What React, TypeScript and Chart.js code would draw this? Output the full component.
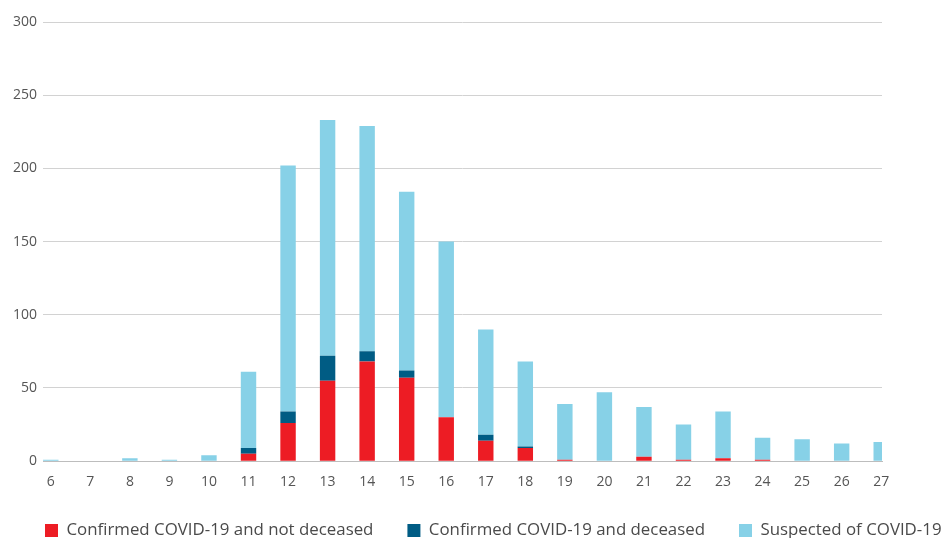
import React, { useEffect, useRef } from "react";
import { Chart, registerables } from "chart.js";

Chart.register(...registerables);

const categories = [6, 7, 8, 9, 10, 11, 12, 13, 14, 15, 16, 17, 18, 19, 20, 21, 22, 23, 24, 25, 26, 27];
const confirmedNotDeceased = [0, 0, 0, 0, 0, 5, 26, 55, 68, 57, 30, 14, 9, 1, 0, 3, 1, 2, 1, 0, 0, 0];
const confirmedDeceased = [0, 0, 0, 0, 0, 4, 8, 17, 7, 5, 0, 4, 1, 0, 0, 0, 0, 0, 0, 0, 0, 0];
const suspected = [1, 0, 2, 1, 4, 52, 168, 161, 154, 122, 120, 72, 58, 38, 47, 34, 24, 32, 15, 15, 12, 13];
const yTicks = [0, 50, 100, 150, 200, 250, 300];

const seriesNames = [
  "Confirmed COVID-19 and not deceased",
  "Confirmed COVID-19 and deceased",
  "Suspected of COVID-19",
];
const seriesColors = ["#ED1C24", "#005C84", "#87D1E7"];

export default function App() {
  const ref = useRef<HTMLCanvasElement | null>(null);

  useEffect(() => {
    if (!ref.current) return;
    const toPts = (arr: number[]) => categories.map((c, i) => ({ x: c, y: arr[i] }));
    const chart = new Chart(ref.current, {
      type: "bar",
      data: {
        datasets: [confirmedNotDeceased, confirmedDeceased, suspected].map((arr, i) => ({
          label: seriesNames[i],
          data: toPts(arr),
          backgroundColor: seriesColors[i],
          borderWidth: 0,
          categoryPercentage: 1,
          barPercentage: 0.39,
          yAxisID: "y",
        })),
      },
      options: {
        responsive: false,
        animation: false,
        devicePixelRatio: 1,
        layout: { padding: { left: 11, top: 22, right: 0, bottom: 0 } },
        plugins: {
          tooltip: { enabled: false },
          legend: {
            position: "bottom",
            align: "start",
            labels: {
              boxWidth: 13,
              boxHeight: 13,
              padding: 34,
              color: "#4a4a4a",
              font: { family: "'Open Sans'", size: 16.85 },
            },
          },
        },
        scales: {
          x: {
            type: "linear",
            stacked: true,
            offset: false,
            min: 5.803,
            max: 27.02,
            grid: { display: false, drawTicks: false },
            border: { display: true, color: "#bdbdbd", width: 1 },
            afterBuildTicks: (s: any) => {
              s.ticks = categories.map((v) => ({ value: v }));
            },
            afterFit: (s: any) => {
              s.height = 27;
            },
            ticks: {
              padding: 14,
              autoSkip: false,
              maxRotation: 0,
              color: "#555555",
              font: { family: "'Open Sans'", size: 14, lineHeight: 1 },
              callback: (v: any) => String(v),
            },
          },
          y: {
            stacked: true,
            min: 0,
            max: 300,
            afterBuildTicks: (s: any) => {
              s.ticks = yTicks.map((v) => ({ value: v }));
            },
            afterFit: (s: any) => {
              s.width = 32;
            },
            grid: { color: "#d2d2d2", lineWidth: 1, drawTicks: false },
            border: { display: false },
            ticks: {
              padding: 6,
              color: "#555555",
              font: { family: "'Open Sans'", size: 14 },
            },
          },
          yRight: {
            type: "linear",
            position: "right",
            display: true,
            grid: { display: false, drawTicks: false },
            border: { display: false },
            ticks: { display: false },
            afterFit: (s: any) => {
              s.width = 118;
            },
          },
        },
      },
    } as any);
    return () => chart.destroy();
  }, []);

  return (
    <div
      style={{
        position: "fixed",
        left: 0,
        top: 0,
        width: 941,
        height: 538,
        overflow: "hidden",
        background: "#fff",
      }}
    >
      <canvas ref={ref} width={1000} height={549} style={{ display: "block" }} />
    </div>
  );
}
